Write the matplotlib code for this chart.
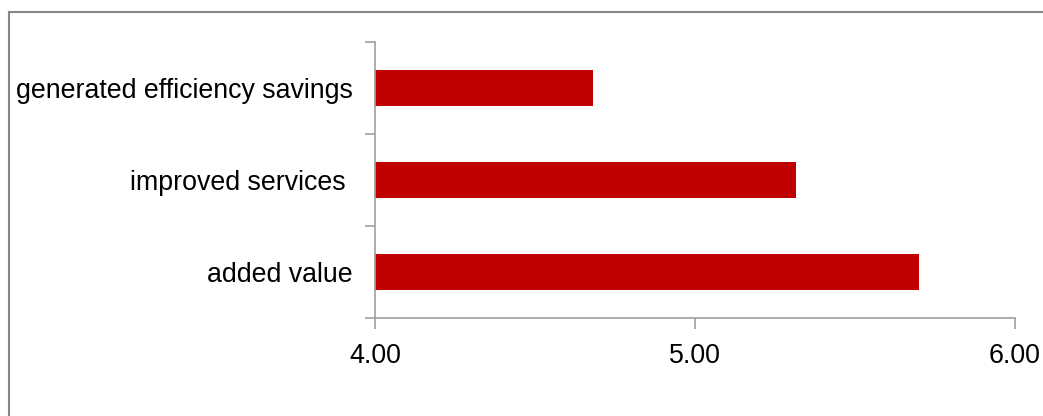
import matplotlib
matplotlib.use("Agg")
import matplotlib.pyplot as plt
from matplotlib.lines import Line2D
from matplotlib.ticker import FixedLocator

categories = ["added value", "improved services ", "generated efficiency savings"]
values = [5.70, 5.315, 4.68]
xticks = [4.00, 5.00, 6.00]
xticklabels = ["4.00", "5.00", "6.00"]

W, H = 1043, 416
fig = plt.figure(figsize=(W / 100, H / 100), dpi=100)
plt.rcParams['font.family'] = ['Liberation Sans', 'DejaVu Sans']

ax = fig.add_axes([375 / W, (H - 318) / H, (1015 - 375) / W, (318 - 42) / H])
ypos = list(range(len(categories)))
ax.barh(ypos, values, height=0.4, left=0, color="#C00000", edgecolor="none")

ax.set_xlim(4.0, 6.0)
ax.set_ylim(-0.5, len(categories) - 0.5)
ax.set_xticks(xticks)
ax.set_xticklabels(xticklabels, fontsize=19.3)
ax.set_yticks(ypos)
ax.set_yticklabels(categories, fontsize=19.3)
ax.yaxis.set_minor_locator(FixedLocator([i - 0.5 for i in range(len(categories) + 1)]))

grey = "#A0A0A0"
for s in ["top", "right"]:
    ax.spines[s].set_visible(False)
for s in ["left", "bottom"]:
    ax.spines[s].set_color(grey)
    ax.spines[s].set_linewidth(1.2)

ax.tick_params(axis="y", which="major", length=0, pad=16, colors="black")
ax.tick_params(axis="y", which="minor", length=7, width=1.2, color=grey)
ax.tick_params(axis="x", which="major", length=8, width=1.2, color=grey, pad=10, labelcolor="black")

# outer frame (left and top edges visible)
fig.add_artist(Line2D([8.5 / W, 8.5 / W], [0, 1 - 11.5 / H], transform=fig.transFigure,
                      color="#868686", linewidth=1.5))
fig.add_artist(Line2D([8.5 / W, 1], [1 - 11.5 / H, 1 - 11.5 / H], transform=fig.transFigure,
                      color="#868686", linewidth=1.5))

fig.savefig("out.png", dpi=100)
